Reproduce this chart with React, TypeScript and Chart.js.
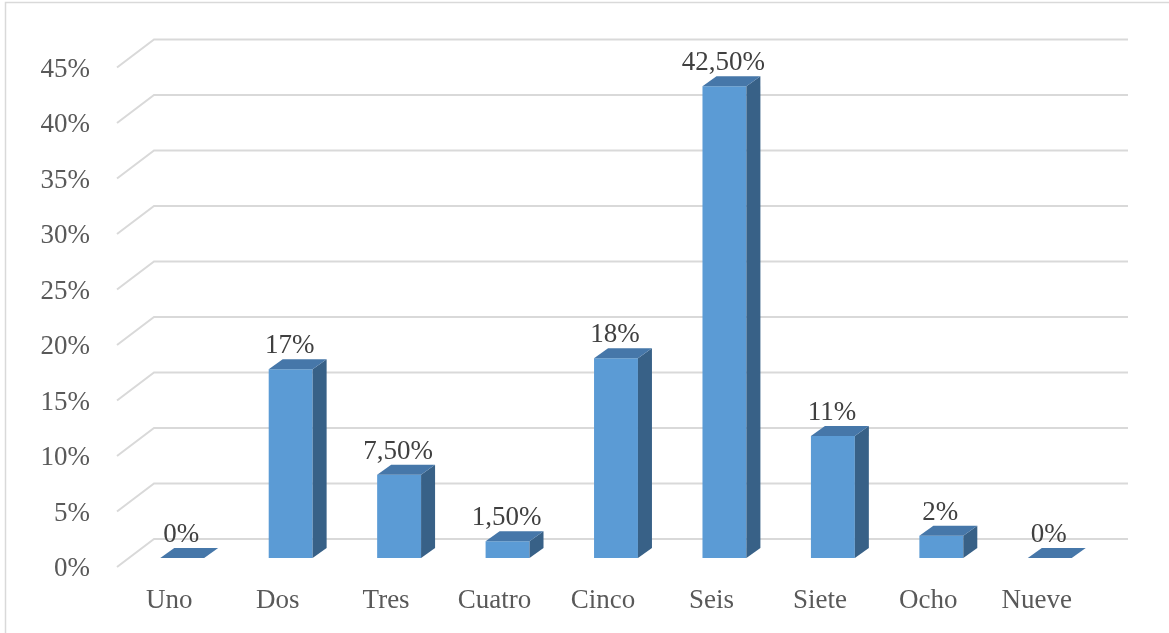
import React, { useEffect, useRef } from "react";
import { Chart, registerables } from "chart.js";

Chart.register(...registerables);

// Number of members per household (share of respondents)
const categories: string[] = ["Uno", "Dos", "Tres", "Cuatro", "Cinco", "Seis", "Siete", "Ocho", "Nueve"];
const shares: number[] = [0, 17, 7.5, 1.5, 18, 42.5, 11, 2, 0];
const yTicks: number[] = [0, 5, 10, 15, 20, 25, 30, 35, 40, 45];

const FONT = "'Liberation Serif', 'Times New Roman', serif";
const FRONT = "#5b9bd5";
const TOP = "#4677a9";
const SIDE = "#386187";
const GRID = "#d9d9d9";

// oblique depth used for the 3D look
const BAR_DX = 14;
const BAR_DY = -10;
const BACK_DX = 26;
const BACK_DY = -19;
const FRONT_DX = -11;
const FRONT_DY = 9;

function formatShare(v: number): string {
  if (Number.isInteger(v)) return `${v}%`;
  return `${v.toFixed(2).replace(".", ",")}%`;
}

const depthPlugin = {
  id: "depth3d",
  beforeDraw(chart: any) {
    const ctx = chart.ctx;
    ctx.save();
    ctx.strokeStyle = GRID;
    ctx.lineWidth = 1.5;
    ctx.beginPath();
    ctx.moveTo(5.5, chart.height + 5);
    ctx.lineTo(5.5, 2.5);
    ctx.lineTo(chart.width + 5, 2.5);
    ctx.stroke();
    ctx.restore();
  },
  beforeDatasetsDraw(chart: any) {
    const ctx = chart.ctx;
    const y = chart.scales.y;
    const { left, right } = chart.chartArea;
    ctx.save();
    ctx.strokeStyle = GRID;
    ctx.lineWidth = 2;
    for (const v of yTicks) {
      const yf = y.getPixelForValue(v);
      ctx.beginPath();
      ctx.moveTo(left + FRONT_DX, yf + FRONT_DY);
      ctx.lineTo(left + BACK_DX, yf + BACK_DY);
      ctx.lineTo(right + BACK_DX - 2, yf + BACK_DY);
      ctx.stroke();
    }
    ctx.restore();
  },
  afterDatasetsDraw(chart: any) {
    const ctx = chart.ctx;
    const meta = chart.getDatasetMeta(0);
    ctx.save();
    meta.data.forEach((bar: any, i: number) => {
      const { x, y, base, width } = bar.getProps(["x", "y", "base", "width"], true);
      const l = x - width / 2;
      const r = x + width / 2;
      // side face
      ctx.fillStyle = SIDE;
      ctx.beginPath();
      ctx.moveTo(r, y);
      ctx.lineTo(r + BAR_DX, y + BAR_DY);
      ctx.lineTo(r + BAR_DX, base + BAR_DY);
      ctx.lineTo(r, base);
      ctx.closePath();
      ctx.fill();
      // top face
      ctx.fillStyle = TOP;
      ctx.beginPath();
      ctx.moveTo(l, y);
      ctx.lineTo(r, y);
      ctx.lineTo(r + BAR_DX, y + BAR_DY);
      ctx.lineTo(l + BAR_DX, y + BAR_DY);
      ctx.closePath();
      ctx.fill();
      // value label
      ctx.fillStyle = "#404040";
      ctx.font = `27px ${FONT}`;
      ctx.textAlign = "center";
      ctx.textBaseline = "alphabetic";
      ctx.fillText(formatShare(shares[i]), x - 1, y - 16);
    });
    ctx.restore();
  },
};

export default function App() {
  const canvasRef = useRef<HTMLCanvasElement | null>(null);

  useEffect(() => {
    if (!canvasRef.current) return;
    const chart = new Chart(canvasRef.current, {
      type: "bar",
      data: {
        labels: categories,
        datasets: [
          {
            data: shares,
            backgroundColor: FRONT,
            borderWidth: 0,
            barPercentage: 0.405,
            categoryPercentage: 1,
          },
        ],
      },
      options: {
        responsive: false,
        animation: false,
        devicePixelRatio: 1,
        layout: { padding: { left: 0, right: 65, top: 58.5, bottom: 0 } },
        plugins: { legend: { display: false }, tooltip: { enabled: false }, title: { display: false } },
        scales: {
          x: {
            grid: { display: false, drawTicks: false },
            border: { display: false },
            ticks: {
              color: "#595959",
              font: { family: FONT, size: 27 },
              padding: 27,
              labelOffset: -13,
              maxRotation: 0,
              autoSkip: false,
            },
            afterFit: (scale: any) => {
              scale.height = 75;
            },
          },
          y: {
            min: 0,
            max: 45,
            grid: { display: false, drawTicks: false },
            border: { display: false },
            ticks: {
              stepSize: 5,
              color: "#595959",
              font: { family: FONT, size: 27 },
              padding: 38,
              labelOffset: 11,
              callback: (v: any) => `${v}%`,
            },
            afterFit: (scale: any) => {
              scale.width = 128;
            },
          },
        },
      },
      plugins: [depthPlugin],
    });
    return () => chart.destroy();
  }, []);

  return (
    <div style={{ position: "fixed", left: 0, top: 0, width: 1169, height: 633, background: "#fff" }}>
      <canvas ref={canvasRef} width={1169} height={633} style={{ display: "block" }} />
    </div>
  );
}
